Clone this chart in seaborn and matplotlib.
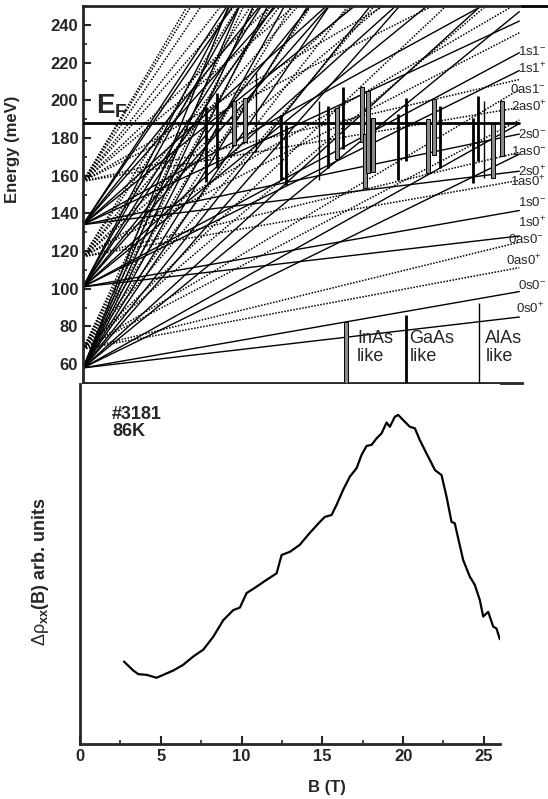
import matplotlib
matplotlib.use('Agg')
import numpy as np
import pandas as pd
import matplotlib.pyplot as plt
import seaborn as sns
from matplotlib.lines import Line2D

# ---- Landau fan (top panel) ----
B_END = 27.0
EF = 188.0

# subband edges at B=0 (meV) and Landau level slopes (meV/T)
s0_E0 = 58.0
s0_slopes = [1.0, 1.5, 4.2, 4.8, 7.0, 7.8, 9.8, 10.8, 12.6, 13.8, 15.4, 16.8, 18.2, 19.8, 21.3]
as0_E0 = 68.0
as0_slopes = [1.6, 2.1, 4.5, 5.1, 7.3, 8.1, 10.1, 11.1, 12.9, 14.1, 15.7, 17.1, 18.3]
s1_E0 = 101.0
s1_slopes = [1.0, 1.5, 4.25, 4.6, 7.0, 7.7, 9.8, 10.6, 12.6, 13.5, 15.4, 16.4]
as1_E0 = 117.0
as1_slopes = [1.5, 2.05, 4.4, 5.0, 7.2, 8.0, 10.0, 10.9, 12.8, 13.8]
s2_E0 = 134.0
s2_slopes = [1.05, 1.78, 4.0, 4.7, 6.9, 7.7, 9.7, 10.6, 12.5, 13.0]
as2_E0 = 157.0
as2_slopes = [1.45, 2.0, 4.3, 5.0, 7.1, 8.0, 9.9, 10.9, 12.7, 13.9, 14.4]

# resonance bars: B position, lower and upper energy
inas_B = [9.34, 10.02, 15.70, 17.26, 17.45, 17.64, 17.93, 21.33, 21.72, 25.39, 25.95]
inas_lo = [176.0, 177.6, 168.9, 178.0, 153.4, 161.4, 161.8, 161.4, 171.2, 158.8, 170.3]
inas_hi = [199.5, 201.0, 196.0, 207.0, 181.9, 205.0, 190.8, 189.9, 200.5, 187.2, 199.6]

gaas_B = [7.61, 8.29, 12.25, 12.54, 15.16, 16.09, 19.49, 19.99, 22.09, 24.15, 24.46]
gaas_lo = [156.8, 164.0, 157.5, 155.2, 164.0, 173.9, 157.9, 167.6, 164.0, 156.0, 167.6]
gaas_hi = [196.3, 204.0, 192.0, 187.0, 197.0, 207.0, 192.5, 201.4, 197.0, 190.8, 202.3]

alas_B = [10.71, 14.60, 24.83]
alas_lo = [172.7, 157.9, 158.8]
alas_hi = [215.0, 199.6, 199.6]

# legend marks
legend_B = [16.3, 20.0, 24.5]
legend_top = [82.3, 85.9, 92.4]
legend_text = ['InAs\nlike', 'GaAs\nlike', 'AlAs\nlike']
legend_text_B = [16.95, 20.2, 24.9]

# level labels at the right edge
lvl_labels = ['1s1$^{-}$', '1s1$^{+}$', '0as1$^{-}$', '2as0$^{+}$', '2s0$^{-}$', '1as0$^{-}$', '2s0$^{+}$',
              '1as0$^{+}$', '1s0$^{-}$', '1s0$^{+}$', '0as0$^{-}$', '0as0$^{+}$', '0s0$^{-}$', '0s0$^{+}$']
lvl_E = [225.6, 216.5, 205.8, 196.3, 181.9, 172.8, 162.1, 156.8, 145.6, 134.8, 125.9, 114.8, 101.5, 89.1]
lvl_B = [26.9, 26.9, 26.4, 26.5, 26.9, 26.5, 26.9, 26.4, 26.9, 26.9, 26.3, 26.2, 26.9, 26.8]

# ---- magnetoresistance (bottom panel) ----
B_curve = [2.72, 3.30, 3.61, 4.13, 4.74, 5.15, 5.77, 6.39, 7.01, 7.63, 8.25, 8.87, 9.49, 9.90,
           10.31, 10.93, 11.55, 12.17, 12.48, 13.0, 13.6, 14.2, 14.85, 15.16, 15.57, 15.88,
           16.29, 16.71, 17.12, 17.43, 17.74, 18.05, 18.36, 18.67, 18.98, 19.18, 19.49, 19.70,
           20.11, 20.42, 20.73, 21.04, 21.45, 21.76, 21.97, 22.38, 22.69, 23.0, 23.2, 23.72,
           24.13, 24.44, 24.75, 24.96, 25.27, 25.58, 25.78, 25.99, 26.13]
rho_curve = [22.9, 20.4, 19.4, 19.2, 18.4, 19.2, 20.4, 22.0, 24.3, 26.2, 29.8, 34.4, 37.2, 37.9,
             41.9, 43.7, 45.6, 47.4, 52.5, 53.4, 55.3, 58.5, 61.7, 63.1, 63.6, 66.4,
             70.6, 74.3, 76.6, 80.3, 82.8, 83.1, 84.9, 86.3, 89.3, 88.1, 90.9, 91.4,
             89.5, 88.1, 87.7, 84.4, 80.7, 78.0, 76.1, 74.7, 68.7, 61.7, 61.3, 51.1,
             46.5, 44.2, 40.0, 35.4, 36.7, 32.6, 32.1, 29.1, 31.2]

sns.set_style('ticks')
plt.rcParams['font.family'] = ['Liberation Sans', 'DejaVu Sans']
plt.rcParams['mathtext.fontset'] = 'custom'
plt.rcParams['mathtext.rm'] = 'Liberation Sans'
plt.rcParams['mathtext.it'] = 'Liberation Sans'
plt.rcParams['mathtext.bf'] = 'Liberation Sans:bold'

fig = plt.figure(figsize=(5.48, 7.99), dpi=100)
ax1 = fig.add_axes([83 / 548, 1 - 383 / 799, 439 / 548, 377 / 799])
ax2 = fig.add_axes([80 / 548, 1 - 744 / 799, 420 / 548, 360 / 799])

dot = (0, (1.0, 1.0))
subbands = [(s0_E0, s0_slopes, '-'), (as0_E0, as0_slopes, dot),
            (s1_E0, s1_slopes, '-'), (as1_E0, as1_slopes, dot),
            (s2_E0, s2_slopes, '-'), (as2_E0, as2_slopes, dot)]
for E0, slopes, ls in subbands:
    for k in slopes:
        ax1.plot([0, B_END], [E0, E0 + k * B_END], color='black', ls=ls,
                 lw=1.0 if ls == '-' else 1.1, zorder=2)

ax1.plot([0, B_END], [EF, EF], color='black', lw=2.0, zorder=3)
ax1.text(0.8, 189.5, r'$\mathbf{E_F}$', fontsize=20, ha='left', va='bottom')

ax1.bar(inas_B, np.array(inas_hi) - np.array(inas_lo), bottom=inas_lo, width=0.25,
        color='#8a8a8a', edgecolor='black', linewidth=0.7, zorder=4)
ax1.vlines(gaas_B, gaas_lo, gaas_hi, color='black', lw=2.0, zorder=4)
ax1.vlines(alas_B, alas_lo, alas_hi, color='black', lw=1.0, zorder=4)

# legend
ax1.bar([legend_B[0]], [legend_top[0] - 50], bottom=50, width=0.25,
        color='#8a8a8a', edgecolor='black', linewidth=0.7, zorder=4)
ax1.vlines(legend_B[1], 50, legend_top[1], color='black', lw=2.0, zorder=4)
ax1.vlines(legend_B[2], 50, legend_top[2], color='black', lw=1.0, zorder=4)
for tb, t in zip(legend_text_B, legend_text):
    ax1.text(tb, 78, t, fontsize=13, ha='left', va='top', linespacing=1.05)

for lb, le, lt in zip(lvl_B, lvl_E, lvl_labels):
    ax1.text(lb, le, lt, fontsize=9.5, ha='left', va='center', clip_on=False)

ax1.set_xlim(0, 439 / 16.16)
ax1.set_ylim(50, 250)
ax1.set_yticks(np.arange(60, 241, 20))
ax1.set_yticks(np.arange(50, 251, 10), minor=True)
ax1.tick_params(axis='y', which='both', direction='in', labelsize=12)
ax1.tick_params(axis='y', which='major', length=6, width=1.5)
ax1.tick_params(axis='y', which='minor', length=3, width=1.2)
ax1.tick_params(axis='x', which='both', bottom=False, labelbottom=False)
for lab in ax1.get_yticklabels():
    lab.set_fontweight('bold')
ax1.set_ylabel('Energy (meV)', fontsize=12, fontweight='bold')
ax1.yaxis.set_label_coords(-0.143, 0.62)
ax1.spines['right'].set_visible(False)
for sp in ['top', 'left', 'bottom']:
    ax1.spines[sp].set_linewidth(2.0)
fig.add_artist(Line2D([522 / 548, 1.0], [1 - 6 / 799, 1 - 6 / 799], color='black', lw=2.0))

# bottom panel
curve = pd.DataFrame({'B': B_curve, 'rho': rho_curve})
sns.lineplot(data=curve, x='B', y='rho', ax=ax2, color='black', lw=1.6, sort=False)
ax2.set_xlim(0, 26)
ax2.set_ylim(0, 100)
ax2.set_xticks([0, 5, 10, 15, 20, 25])
ax2.set_xticks(np.arange(2.5, 26, 5), minor=True)
ax2.set_yticks([])
ax2.tick_params(axis='x', which='both', direction='in', labelsize=12)
ax2.tick_params(axis='x', which='major', length=6, width=1.5)
ax2.tick_params(axis='x', which='minor', length=3, width=1.2)
for lab in ax2.get_xticklabels():
    lab.set_fontweight('bold')
ax2.spines['top'].set_visible(False)
ax2.spines['right'].set_visible(False)
for sp in ['left', 'bottom']:
    ax2.spines[sp].set_linewidth(2.0)
ax2.set_xlabel('B (T)', fontsize=12, fontweight='bold')
ax2.xaxis.set_label_coords(0.588, -0.10)
ax2.set_ylabel(r'$\Delta\rho_{\mathbf{xx}}$(B) arb. units', fontsize=13, fontweight='bold')
ax2.yaxis.set_label_coords(-0.07, 0.48)
ax2.text(1.98, 94, '#3181\n86K', fontsize=13, fontweight='bold', ha='left', va='top',
         linespacing=1.0)

fig.savefig('out.png', dpi=100)
